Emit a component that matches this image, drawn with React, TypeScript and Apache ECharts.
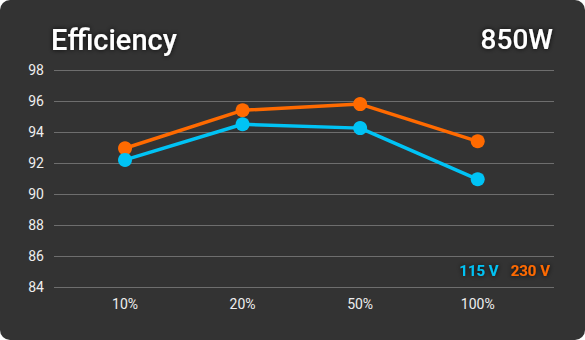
import React, { useEffect, useRef } from "react";
import * as echarts from "echarts";

const categories = ["10%", "20%", "50%", "100%"];
const v115 = [92.2, 94.5, 94.25, 90.95];
const v230 = [92.95, 95.4, 95.8, 93.4];
const yTicks = [84, 86, 88, 90, 92, 94, 96, 98];

const BLUE = "#00c3f5";
const ORANGE = "#ff6a00";

export default function App() {
  const ref = useRef<HTMLDivElement>(null);
  useEffect(() => {
    document.body.style.margin = "0";
    const chart = echarts.init(ref.current!, null, { renderer: "svg" });
    const shadow = { textShadowColor: "rgba(0,0,0,0.85)", textShadowBlur: 5 };
    chart.setOption({
      animation: false,
      backgroundColor: "transparent",
      textStyle: { fontFamily: "Roboto" },
      title: [
        {
          text: "Efficiency",
          left: 46,
          top: 20,
          textStyle: { color: "#ffffff", fontSize: 29, fontWeight: 500, fontFamily: "Roboto", ...shadow },
        },
        {
          text: "850W",
          right: 27,
          top: 20,
          textStyle: { color: "#ffffff", fontSize: 28, fontWeight: 500, fontFamily: "Roboto", ...shadow },
        },
      ],
      legend: {
        right: 30,
        top: 258,
        icon: "none",
        itemWidth: 0,
        itemHeight: 0,
        itemGap: 7,
        selectedMode: false,
        data: [
          { name: "115 V", textStyle: { color: BLUE } },
          { name: "230 V", textStyle: { color: ORANGE } },
        ],
        textStyle: { fontSize: 15, fontWeight: "bold", fontFamily: "Roboto", padding: 0, ...shadow },
      },
      grid: { left: 54, right: 31, top: 70, bottom: 53, containLabel: false },
      xAxis: {
        type: "value",
        min: -0.604,
        max: 3.649,
        axisLine: { show: false },
        axisTick: { show: false },
        splitLine: { show: false },
        axisLabel: {
          customValues: [0, 1, 2, 3],
          formatter: (v: number) => categories[Math.round(v)] ?? "",
          color: "#eeeeee",
          fontSize: 14,
          fontFamily: "Roboto",
          margin: 10,
        },
      },
      yAxis: {
        type: "value",
        min: yTicks[0],
        max: yTicks[yTicks.length - 1],
        interval: 2,
        axisLine: { show: false },
        axisTick: { show: false },
        splitLine: { lineStyle: { color: "#6e6e6e", width: 1 } },
        axisLabel: { color: "#eeeeee", fontSize: 14, fontFamily: "Roboto", margin: 10 },
      },
      series: [
        {
          name: "115 V",
          type: "line",
          data: v115.map((v, i) => [i, v]),
          color: BLUE,
          lineStyle: { width: 3.5, color: BLUE },
          symbol: "circle",
          symbolSize: 14,
          itemStyle: { color: BLUE },
          z: 3,
        },
        {
          name: "230 V",
          type: "line",
          data: v230.map((v, i) => [i, v]),
          color: ORANGE,
          lineStyle: { width: 3.5, color: ORANGE },
          symbol: "circle",
          symbolSize: 14,
          itemStyle: { color: ORANGE },
          z: 2,
        },
      ],
    });
    return () => chart.dispose();
  }, []);
  return (
    <div
      style={{
        position: "absolute",
        left: 0,
        top: 0,
        width: 585,
        height: 340,
        background: "#333333",
        borderRadius: 10,
        overflow: "hidden",
      }}
    >
      <div ref={ref} style={{ width: 585, height: 340 }} />
    </div>
  );
}
